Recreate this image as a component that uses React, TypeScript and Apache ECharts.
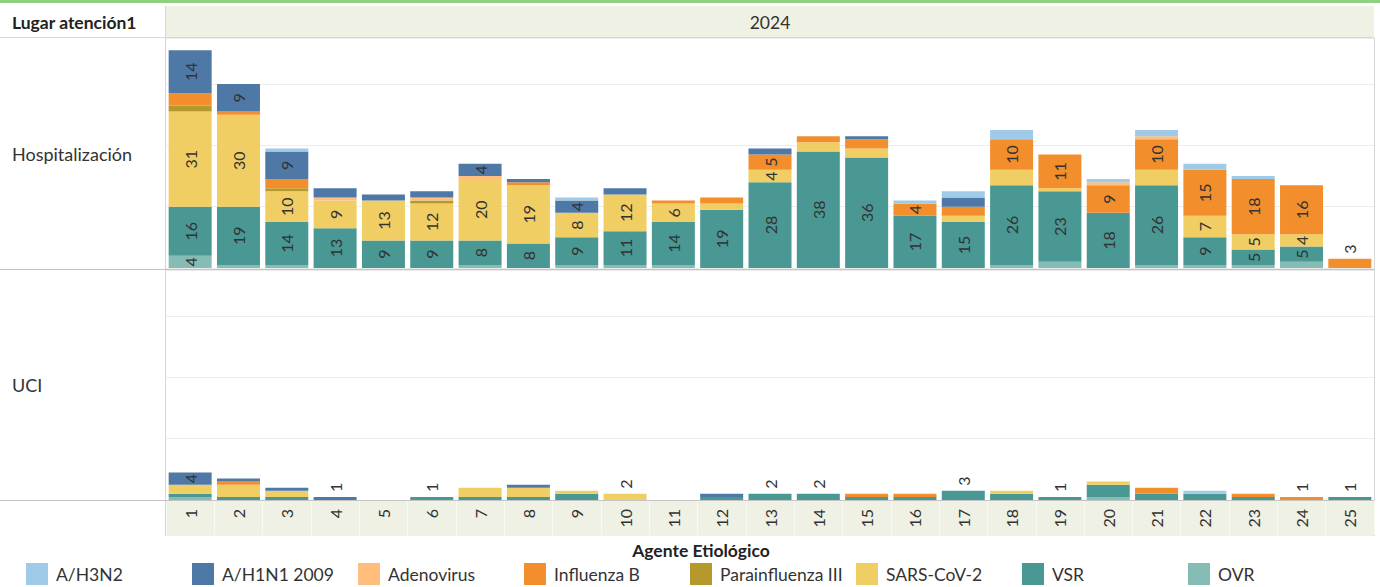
import React, { useEffect, useRef } from "react";
import * as echarts from "echarts";

const weeks = ["1","2","3","4","5","6","7","8","9","10","11","12","13","14","15","16","17","18","19","20","21","22","23","24","25"];

// stacking order, bottom to top
const agents = ["OVR", "VSR", "SARS-CoV-2", "Parainfluenza III", "Influenza B", "Adenovirus", "A/H1N1 2009", "A/H3N2"];
const legendOrder = ["A/H3N2", "A/H1N1 2009", "Adenovirus", "Influenza B", "Parainfluenza III", "SARS-CoV-2", "VSR", "OVR"];
const agentColors: Record<string, string> = {
  "A/H3N2": "#a0cbe8",
  "A/H1N1 2009": "#4e79a7",
  "Adenovirus": "#ffbe7d",
  "Influenza B": "#f28e2b",
  "Parainfluenza III": "#b6992d",
  "SARS-CoV-2": "#f1ce63",
  "VSR": "#499894",
  "OVR": "#86bcb6",
};

// Hospitalización
const hospOVR   = [4,1,1,0,0,0,1,0,1,1,1,0,0,0,0,0,0,1,2,0,1,1,1,2,0];
const hospVSR   = [16,19,14,13,9,9,8,8,9,11,14,19,28,38,36,17,15,26,23,18,26,9,5,5,0];
const hospSARS  = [31,30,10,9,13,12,20,19,8,12,6,2,4,3,3,0,2,5,1,0,5,7,5,4,0];
const hospPara  = [2,0,1,0,0,1,0,0,0,0,0,0,0,0,0,0,0,0,0,0,0,0,0,0,0];
const hospFluB  = [4,1,3,0,0,0,0,1,0,0,1,2,5,2,3,4,3,10,11,9,10,15,18,16,3];
const hospAdeno = [0,0,0,1,0,1,1,0,0,0,0,0,0,0,0,0,0,0,0,1,1,0,0,0,0];
const hospH1N1  = [14,9,9,3,2,2,4,1,4,2,0,0,2,0,1,0,3,0,0,0,0,0,0,0,0];
const hospH3N2  = [0,0,1,0,0,0,0,0,1,0,0,0,0,0,0,1,2,3,0,1,2,2,1,0,0];

// UCI
const uciOVR   = [1,0,0,0,0,0,0,0,0,0,0,0,0,0,0,0,0,0,0,1,0,0,0,0,0];
const uciVSR   = [1,1,1,0,0,1,1,1,2,0,0,1,2,2,1,1,3,2,1,4,2,2,1,0,1];
const uciSARS  = [3,4,2,0,0,0,3,3,1,2,0,0,0,0,0,0,0,1,0,1,0,0,0,0,0];
const uciPara  = [0,0,0,0,0,0,0,0,0,0,0,0,0,0,0,0,0,0,0,0,0,0,0,0,0];
const uciFluB  = [0,1,0,0,0,0,0,0,0,0,0,0,0,0,1,1,0,0,0,0,2,0,1,1,0];
const uciAdeno = [0,0,0,0,0,0,0,0,0,0,0,0,0,0,0,0,0,0,0,0,0,0,0,0,0];
const uciH1N1  = [4,1,1,1,0,0,0,1,0,0,0,1,0,0,0,0,0,0,0,0,0,0,0,0,0];
const uciH3N2  = [0,0,0,0,0,0,0,0,0,0,0,0,0,0,0,0,0,0,0,0,0,1,0,0,0];

const hospData = [hospOVR, hospVSR, hospSARS, hospPara, hospFluB, hospAdeno, hospH1N1, hospH3N2];
const uciData = [uciOVR, uciVSR, uciSARS, uciPara, uciFluB, uciAdeno, uciH1N1, uciH3N2];

// labels hidden by the source tool (panel, agent, week index)
const hiddenLabels = ["0|Influenza B|0", "0|SARS-CoV-2|17", "0|SARS-CoV-2|20", "1|SARS-CoV-2|1", "1|VSR|19"];

const FONT = "Lato, 'Open Sans', sans-serif";
const TXT = "#333333";

function buildSeries(panel: number, rows: number[][]) {
  return agents.map((name, a) => {
    const vals = rows[a];
    const data = vals.map((v, i) => {
      if (!v) return { value: "-" };
      const nonzero = rows.filter((r) => r[i] > 0).length;
      if (nonzero === 1) {
        return {
          value: v,
          label: {
            show: true, position: "top", rotate: 90, align: "left", verticalAlign: "middle",
            distance: 5, fontSize: 16, color: TXT, fontFamily: FONT,
          },
        };
      }
      if (v >= 4 && !hiddenLabels.includes(`${panel}|${name}|${i}`)) {
        return {
          value: v,
          label: {
            show: true, position: "inside", rotate: 90, align: "center", verticalAlign: "middle",
            fontSize: 16, color: TXT, fontFamily: FONT,
          },
        };
      }
      return { value: v, label: { show: false } };
    });
    return {
      type: "bar",
      name,
      xAxisIndex: panel,
      yAxisIndex: panel,
      stack: "p" + panel,
      barWidth: 43,
      itemStyle: { color: agentColors[name] },
      emphasis: { disabled: true },
      data,
    };
  });
}

const gridLeft = 166;
const gridWidth = 1208;

function buildOption() {
  const yAxisBase = {
    type: "value", min: 0, max: 75, interval: 20,
    axisLabel: { show: false }, axisLine: { show: false }, axisTick: { show: false },
    splitLine: { show: true, lineStyle: { color: "#ececec", width: 1 } },
  };
  const lineStyle = (c: string) => ({ stroke: c, lineWidth: 1 });
  return {
    animation: false,
    grid: [
      { left: gridLeft, top: 38, width: gridWidth, height: 230 },
      { left: gridLeft, top: 270, width: gridWidth, height: 230 },
    ],
    xAxis: [
      {
        type: "category", gridIndex: 0, data: weeks,
        axisLabel: { show: false }, axisTick: { show: false }, axisLine: { show: false },
      },
      {
        type: "category", gridIndex: 1, data: weeks,
        axisLine: { show: false },
        axisTick: { show: true, length: 35, lineStyle: { color: "#f9faf4", width: 1 } },
        axisLabel: {
          show: true, rotate: 90, margin: 9,
          fontSize: 16, color: TXT, fontFamily: FONT, interval: 0,
        },
      },
    ],
    yAxis: [
      { ...yAxisBase, gridIndex: 0 },
      { ...yAxisBase, gridIndex: 1 },
    ],
    legend: legendOrder.map((name, i) => ({
      show: true,
      data: [name],
      left: 26 + 166 * i,
      top: 563,
      icon: "rect",
      itemWidth: 22,
      itemHeight: 22,
      selectedMode: false,
      padding: 0,
      textStyle: { fontSize: 17.5, color: TXT, fontFamily: FONT, padding: [0, 0, 0, 3] },
    })),
    graphic: [
      { type: "rect", shape: { x: 0, y: 0, width: 1380, height: 3 }, style: { fill: "#8fd17f" }, silent: true },
      { type: "rect", shape: { x: 166, y: 6, width: gridWidth, height: 31 }, style: { fill: "#eef1e4" }, silent: true, z: -1 },
      { type: "rect", shape: { x: 166, y: 501, width: gridWidth, height: 35 }, style: { fill: "#eef1e4" }, silent: true, z: -1 },
      { type: "line", shape: { x1: 0, y1: 37.5, x2: 1374, y2: 37.5 }, style: lineStyle("#d6d6d6"), silent: true },
      { type: "line", shape: { x1: 165.5, y1: 6, x2: 165.5, y2: 536 }, style: lineStyle("#d6d6d6"), silent: true },
      { type: "line", shape: { x1: 1374.5, y1: 38, x2: 1374.5, y2: 536 }, style: lineStyle("#d6d6d6"), silent: true },
      { type: "line", shape: { x1: 0, y1: 269.5, x2: 1374, y2: 269.5 }, style: lineStyle("#c4c4c4"), silent: true, z: 10 },
      { type: "line", shape: { x1: 0, y1: 500.5, x2: 1374, y2: 500.5 }, style: lineStyle("#c4c4c4"), silent: true, z: 10 },
      { type: "text", x: 12, y: 22, style: { text: "Lugar atención1", fontSize: 17.5, fontWeight: "bold", fill: "#222", fontFamily: FONT, verticalAlign: "middle" }, silent: true },
      { type: "text", x: 770, y: 22, style: { text: "2024", fontSize: 17.5, fill: TXT, fontFamily: FONT, align: "center", verticalAlign: "middle" }, silent: true },
      { type: "text", x: 12, y: 154, style: { text: "Hospitalización", fontSize: 18, fill: TXT, fontFamily: FONT, verticalAlign: "middle" }, silent: true },
      { type: "text", x: 12, y: 385, style: { text: "UCI", fontSize: 18, fill: TXT, fontFamily: FONT, verticalAlign: "middle" }, silent: true },
      { type: "text", x: 701, y: 550, style: { text: "Agente Etiológico", fontSize: 17.5, fontWeight: "bold", fill: "#222", fontFamily: FONT, align: "center", verticalAlign: "middle" }, silent: true },
    ],
    series: [...buildSeries(0, hospData), ...buildSeries(1, uciData)],
  };
}

export default function App() {
  const ref = useRef<HTMLDivElement>(null);
  useEffect(() => {
    const chart = echarts.init(ref.current!, null, { renderer: "svg" });
    chart.setOption(buildOption() as any);
    return () => chart.dispose();
  }, []);
  return (
    <div
      ref={ref}
      style={{ position: "fixed", left: 0, top: 0, width: 1380, height: 587, background: "#ffffff" }}
    />
  );
}
